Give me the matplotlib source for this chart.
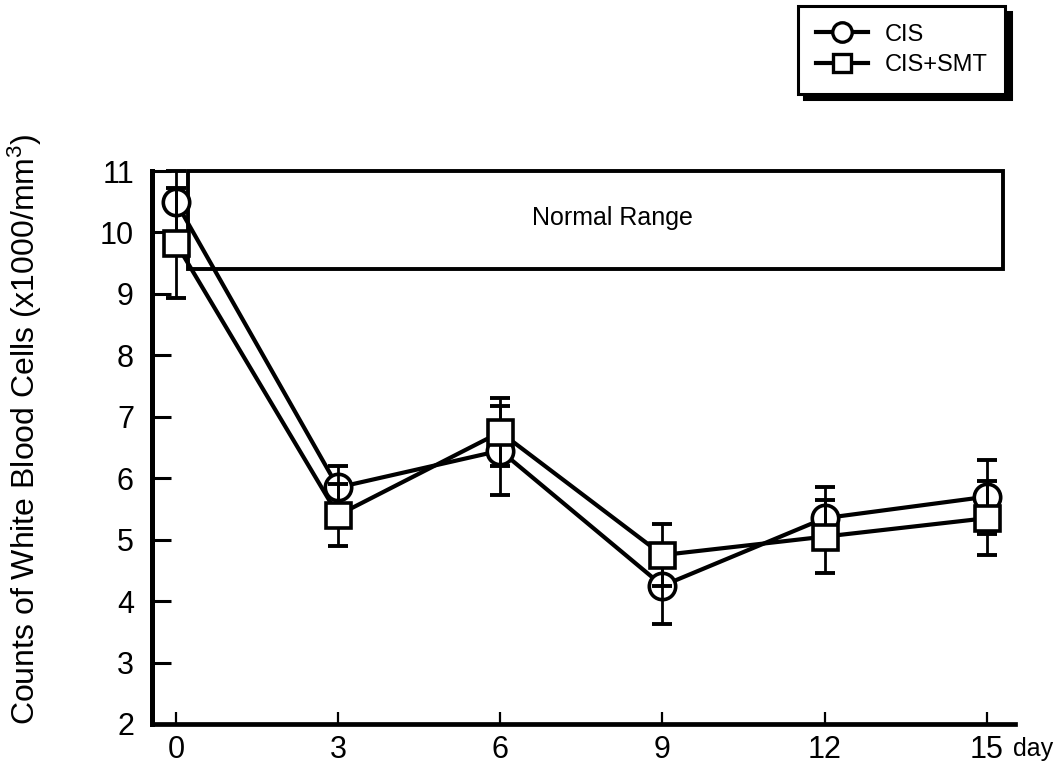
import matplotlib
matplotlib.use("Agg")
import matplotlib.pyplot as plt
from matplotlib.lines import Line2D
from matplotlib.patches import Rectangle

plt.rcParams['font.family'] = ['Liberation Sans', 'DejaVu Sans']
plt.rcParams['mathtext.fontset'] = 'custom'
plt.rcParams['mathtext.rm'] = 'Liberation Sans'

# white blood cell counts (x1000/mm^3) by day
days = [0, 3, 6, 9, 12, 15]
cis_mean = [10.5, 5.85, 6.45, 4.25, 5.35, 5.7]
cis_err = [0.5, 0.35, 0.72, 0.62, 0.5, 0.6]
smt_mean = [9.83, 5.4, 6.75, 4.75, 5.05, 5.35]
smt_err = [0.9, 0.5, 0.55, 0.5, 0.6, 0.6]

normal_low, normal_high = 9.4, 11.0
normal_x0, normal_x1 = 0.22, 15.3

fig = plt.figure(figsize=(10.64, 7.68), dpi=100)
ax = fig.add_axes([0.1429, 0.0573, 0.954 - 0.1429, 0.7773 - 0.0573])

# normal range box
ax.add_patch(Rectangle((normal_x0, normal_low), normal_x1 - normal_x0,
                       normal_high - normal_low, fill=False, lw=2.8,
                       edgecolor='black', zorder=0.5, clip_on=False))
ax.text(8.08, 10.24, 'Normal Range', ha='center', va='center', fontsize=18)

# circles go under the error bars, squares on top of them
ax.plot(days, cis_mean, color='black', lw=3, marker='o', ms=19,
        mfc='white', mec='black', mew=2.6, zorder=2, clip_on=False)
ax.plot(days, smt_mean, color='black', lw=3, zorder=2, clip_on=False)
ax.errorbar(days, cis_mean, yerr=cis_err, fmt='none', ecolor='black',
            elinewidth=2, capsize=7, capthick=2.8, zorder=3, clip_on=False)
ax.errorbar(days, smt_mean, yerr=smt_err, fmt='none', ecolor='black',
            elinewidth=2, capsize=7, capthick=2.8, zorder=3, clip_on=False)
ax.plot(days, smt_mean, ls='none', marker='s', ms=18, mfc='white',
        mec='black', mew=2.6, zorder=4, clip_on=False)

ax.set_xlim(-0.44, 15.52)
ax.set_ylim(2, 11)
ax.set_xticks(days)
ax.set_yticks(range(2, 12))
ax.spines['top'].set_visible(False)
ax.spines['right'].set_visible(False)
ax.spines['left'].set_linewidth(3.6)
ax.spines['bottom'].set_linewidth(3.4)
ax.tick_params(axis='y', direction='in', length=14, width=2.2, pad=13,
               labelsize=22)
ax.tick_params(axis='x', direction='in', length=8.5, width=1.6, pad=8,
               labelsize=22)

fig.text(1013 / 1064, 0.0245, 'day', fontsize=18, ha='left', va='center')
fig.text(0.0235, 0.441, 'Counts of White Blood Cells (x1000/mm$\\mathregular{^3}$)',
         rotation=90, ha='center', va='center', fontsize=23)

handles = [
    Line2D([], [], color='black', lw=3, marker='o', ms=14, mfc='white',
           mec='black', mew=2.4),
    Line2D([], [], color='black', lw=3, marker='s', ms=13, mfc='white',
           mec='black', mew=2.4),
]
leg = fig.legend(handles, ['CIS', 'CIS+SMT'], loc='upper right',
                 bbox_to_anchor=(1005 / 1064, 1 - 6 / 768), borderaxespad=0,
                 fontsize=17, handlelength=2.2, handletextpad=0.7,
                 labelspacing=0.35, borderpad=0.75, fancybox=False,
                 framealpha=1,
                 shadow={'color': 'black', 'alpha': 1, 'ox': 4, 'oy': -4})
leg.get_frame().set_edgecolor('black')
leg.get_frame().set_linewidth(2.2)

fig.savefig('out.png', dpi=100)
